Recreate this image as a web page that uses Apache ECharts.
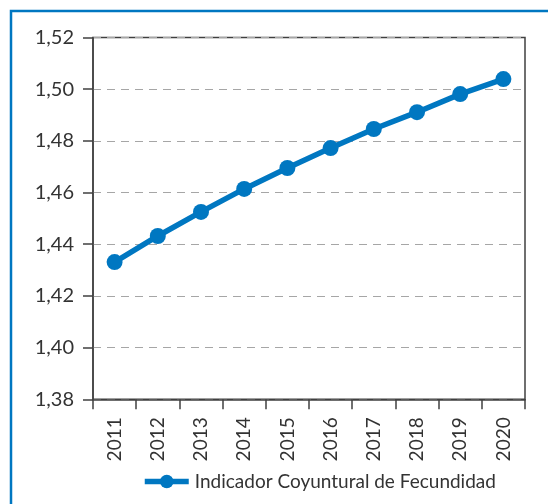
<!DOCTYPE html>
<html><head><meta charset="utf-8">
<script src="https://cdn.jsdelivr.net/npm/echarts@6/dist/echarts.min.js"></script>
<style>html,body{margin:0;padding:0;background:#fff}#c{width:548px;height:504px}</style>
</head><body><div id="c"></div>
<script>
var categories = ['2011','2012','2013','2014','2015','2016','2017','2018','2019','2020'];
var values = [1.4331, 1.4432, 1.4525, 1.4614, 1.4695, 1.4772, 1.4846, 1.4911, 1.4981, 1.5039];
var seriesName = 'Indicador Coyuntural de Fecundidad';
var yMin = 1.38, yMax = 1.52, yStep = 0.02;
var FONT = 'Lato, "Open Sans", sans-serif';
var BLUE = '#0077c1';
var chart = echarts.init(document.getElementById('c'), null, {renderer: 'canvas'});
chart.setOption({
  animation: false,
  graphic: [{type: 'rect', shape: {x: 11, y: 11, width: 700, height: 700}, style: {fill: null, stroke: BLUE, lineWidth: 2.5}, z: 10}],
  grid: {left: 93, top: 37.5, right: 23, bottom: 104.7, show: true, borderColor: '#404040', borderWidth: 1.5, backgroundColor: 'transparent'},
  legend: {
    data: [seriesName], left: 142, top: 472, padding: 0, itemWidth: 44, itemHeight: 17, itemGap: 10,
    lineStyle: {width: 5.5},
    textStyle: {fontFamily: FONT, fontSize: 19, color: '#333', padding: [0,0,0,1]}
  },
  xAxis: {
    type: 'category', data: categories, boundaryGap: true,
    axisLine: {lineStyle: {color: '#404040', width: 1.5}},
    axisTick: {show: true, length: 10, alignWithLabel: false, lineStyle: {color: '#404040', width: 1.5}},
    axisLabel: {rotate: 90, margin: 18, fontFamily: FONT, fontSize: 19, color: '#333', interval: 0},
    splitLine: {show: false}
  },
  yAxis: {
    type: 'value', min: yMin, max: yMax, interval: yStep,
    axisLine: {show: true, lineStyle: {color: '#404040', width: 1.5}},
    axisTick: {show: true, length: 10, lineStyle: {color: '#404040', width: 1.5}},
    axisLabel: {margin: 19, fontFamily: FONT, fontSize: 20, color: '#333',
      formatter: function(v){ return v.toFixed(2).replace('.', ','); }},
    splitLine: {show: true, lineStyle: {color: '#a6a6a6', width: 1.2, type: [8, 6]}}
  },
  series: [{
    name: seriesName, type: 'line', data: values,
    symbol: 'circle', symbolSize: 16,
    lineStyle: {color: BLUE, width: 5.5},
    itemStyle: {color: BLUE}
  }]
});
</script></body></html>
